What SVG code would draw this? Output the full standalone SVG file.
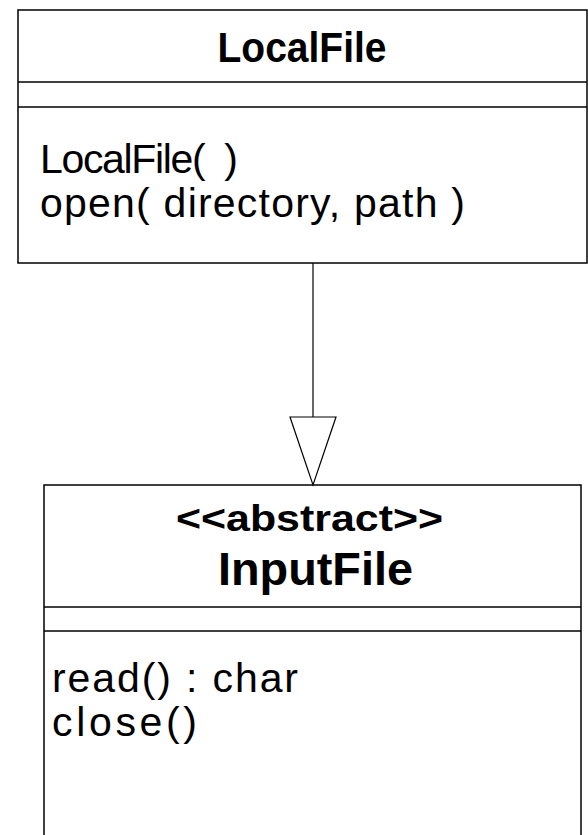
<svg xmlns="http://www.w3.org/2000/svg" width="588" height="835" viewBox="0 0 588 835">
  <style>
    .box { fill: #ffffff; stroke: #000000; stroke-width: 1.5; }
    .sep { stroke: #000000; stroke-width: 1.5; }
    .title { font-family: "Liberation Sans", Arial, sans-serif; font-weight: bold; text-anchor: middle; fill: #000000; }
    .member { font-family: "Liberation Sans", Arial, sans-serif; font-size: 41px; fill: #000000; }
    .edge { stroke: #000000; stroke-width: 1.2; fill: none; }
    .head { stroke: #000000; stroke-width: 1.2; fill: #ffffff; }
  </style>

  <rect width="588" height="835" fill="#ffffff"/>

  <!-- class LocalFile -->
  <g id="LocalFile">
    <rect class="box" x="18" y="10" width="569" height="253"/>
    <line class="sep" x1="18" y1="82" x2="587" y2="82"/>
    <line class="sep" x1="18" y1="107" x2="587" y2="107"/>
    <text class="title" x="302" y="62" font-size="43" textLength="169" lengthAdjust="spacingAndGlyphs">LocalFile</text>
    <text class="member" x="40" y="173" textLength="198" lengthAdjust="spacing" xml:space="preserve">LocalFile(  )</text>
    <text class="member" x="40" y="217" textLength="425" lengthAdjust="spacing">open( directory, path )</text>
  </g>

  <!-- abstract class InputFile -->
  <g id="InputFile">
    <rect class="box" x="44" y="485" width="537" height="360"/>
    <line class="sep" x1="44" y1="607" x2="581" y2="607"/>
    <line class="sep" x1="44" y1="631" x2="581" y2="631"/>
    <text class="title" x="309.5" y="531" font-size="37" textLength="267" lengthAdjust="spacingAndGlyphs">&lt;&lt;abstract&gt;&gt;</text>
    <text class="title" x="315.5" y="585" font-size="46" textLength="195" lengthAdjust="spacingAndGlyphs">InputFile</text>
    <text class="member" x="52" y="692" textLength="246" lengthAdjust="spacing">read() : char</text>
    <text class="member" x="52" y="736" textLength="145" lengthAdjust="spacing">close()</text>
  </g>

  <!-- generalization: LocalFile extends InputFile -->
  <g id="connectors">
    <line class="edge" x1="313" y1="263" x2="313" y2="417"/>
    <polygon class="head" points="290,417 336,417 313,485"/>
  </g>
</svg>
